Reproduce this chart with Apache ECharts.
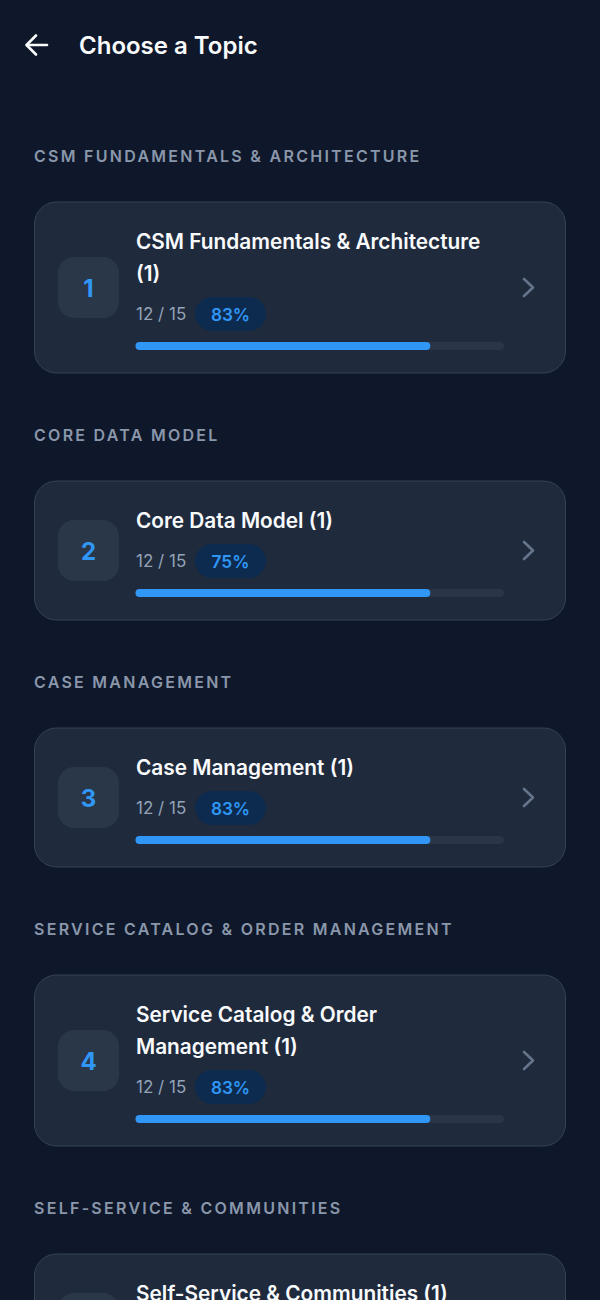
<!DOCTYPE html>
<html><head><meta charset="utf-8">
<style>html,body{margin:0;padding:0;background:#0f172a}#c{width:600px;height:1300px}</style>
<script src="https://cdn.jsdelivr.net/npm/echarts@6/dist/echarts.min.js"></script>
</head><body><div id="c"></div>
<script>
const pageTitle = 'Choose a Topic';
const sections = ['CSM FUNDAMENTALS & ARCHITECTURE','CORE DATA MODEL','CASE MANAGEMENT','SERVICE CATALOG & ORDER MANAGEMENT','SELF-SERVICE & COMMUNITIES'];
const topics = ['CSM Fundamentals & Architecture\n(1)','Core Data Model (1)','Case Management (1)','Service Catalog & Order\nManagement (1)','Self-Service & Communities (1)'];
const numbers = ['1','2','3','4'];
const answered = [12,12,12,12];
const totals = [15,15,15,15];
const percents = ['83%','75%','83%','83%'];

const FONT = 'Inter, "Noto Sans", sans-serif';
const C = {bg:'#0f172a',card:'#1f2a3c',border:'#364356',badge:'#2a3749',blue:'#3097f7',pill:'#0d2b4e',
  chev:'#64748b',label:'#8a97ab',sub:'#94a3b8',white:'#f8fafc',track:'#2a3648'};
const g = [], grids = [], xs = [], ys = [], series = [];
const text = (t,x,y,size,weight,fill,align,lh) => ({type:'text',z:5,style:{text:t,x,y,font:`${weight} ${size}px ${FONT}`,fill,align:align||'left',verticalAlign:'middle',lineHeight:lh}});
const line = (pts,stroke,w) => ({type:'polyline',z:5,shape:{points:pts},style:{stroke,lineWidth:w,fill:null,lineCap:'round',lineJoin:'round'}});

g.push(line([[47,45],[27,45]],C.white,2.6), line([[36,35.5],[26.5,45],[36,54.5]],C.white,2.6));
g.push(text(pageTitle,79,45.3,24,600,C.white));

let label = 156;
sections.forEach((s,i)=>{
  const lines = topics[i].split('\n').length;
  const top = label + 46, h = lines===2 ? 171 : 139, cy = top + h/2;
  g.push(text(s,34,label,16,600,C.label));
  g.push({type:'rect',z:1,shape:{x:34.5,y:top,width:531,height:h,r:22},style:{fill:C.card,stroke:C.border,lineWidth:1}});
  g.push({type:'rect',z:2,shape:{x:58,y:cy-30.5,width:61,height:61,r:16},style:{fill:C.badge}});
  if (i < numbers.length) g.push(text(numbers[i],88.5,cy+.5,24,700,C.blue,'center'));
  g.push(line([[524,cy-8.5],[533,cy],[524,cy+8.5]],C.chev,2.6));
  const ty = top + 39;
  g.push(text(topics[i],136,lines===2?ty+16:ty,20.8,600,C.white,'left',32));
  if (i < answered.length) {
    const sy = ty + (lines-1)*32 + 41;
    g.push(text(answered[i]+' / '+totals[i],136,sy,17,400,C.sub));
    g.push({type:'rect',z:2,shape:{x:195,y:sy-17,width:71,height:34,r:17},style:{fill:C.pill}});
    g.push(text(percents[i],230.5,sy,17.2,600,C.blue,'center'));
    grids.push({left:135.5,width:368.5,top:sy+28,height:8});
    xs.push({type:'value',gridIndex:i,min:0,max:totals[i],show:false});
    ys.push({type:'category',gridIndex:i,data:[topics[i]],show:false});
    series.push({type:'bar',xAxisIndex:i,yAxisIndex:i,data:[answered[i]],barWidth:8,silent:true,
      itemStyle:{color:C.blue,borderRadius:4},showBackground:true,backgroundStyle:{color:C.track,borderRadius:4}});
  }
  label = top + h + 62;
});

const chart = echarts.init(document.getElementById('c'),null,{renderer:'svg',width:600,height:1300});
chart.setOption({animation:false,backgroundColor:C.bg,tooltip:{show:false},graphic:{elements:g},grid:grids,xAxis:xs,yAxis:ys,series});
function space(){
  document.querySelectorAll('#c text').forEach(t=>{
    if (sections.includes(t.textContent)) t.style.letterSpacing='2.27px';
  });
}
space();
chart.on('rendered',space);
</script></body></html>
